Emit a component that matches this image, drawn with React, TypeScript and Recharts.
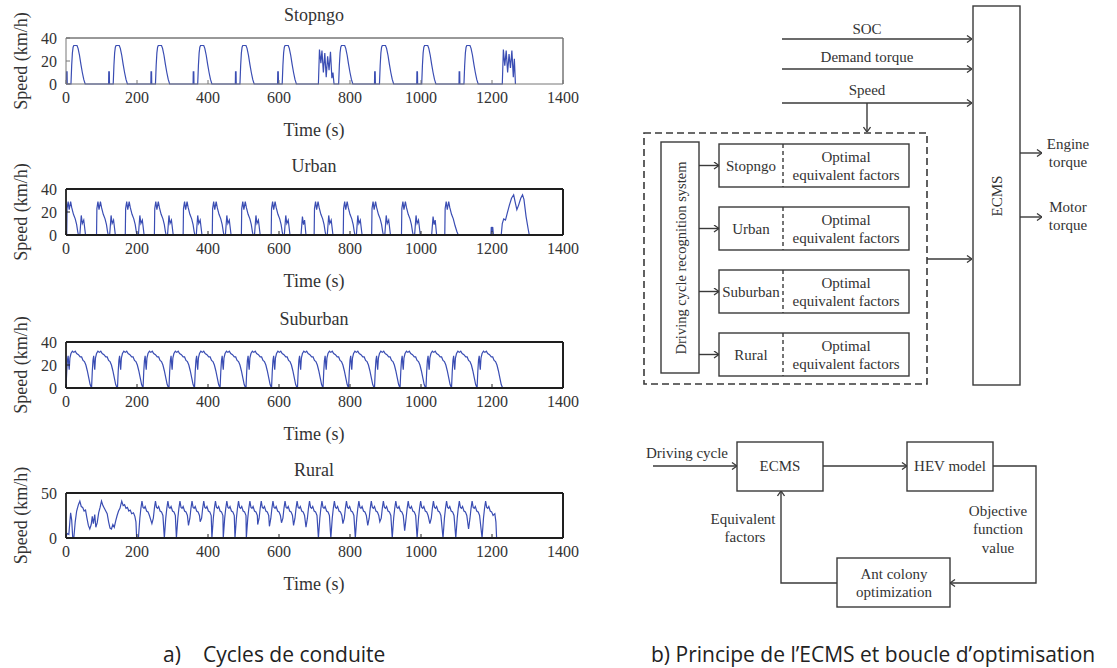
import React from "react";
import { LineChart, Line, XAxis, YAxis, ReferenceLine } from "recharts";

type Pt = [number, number];
type Row = { t: number; v: number };

const SERIF = "'Liberation Serif', 'DejaVu Serif', serif";
const SANS = "'Open Sans', 'Noto Sans', sans-serif";
const BLUE = "#3a4db3";
const INK = "#333";

const xTicks = [0, 200, 400, 600, 800, 1000, 1200, 1400];

// ---- Stopngo: short spike, then one trip; two stop-and-go bursts ----
const stopngoSpikeStarts = [1, 120, 239, 358, 477, 596, 869, 988, 1107];
const stopngoSpike: Pt[] = [[0, 0], [0.5, 10.5], [2, 10.5], [2.5, 0]];
const stopngoTripStarts = [14, 133, 252, 371, 490, 609, 768, 883, 1002, 1121];
const stopngoTrip: Pt[] = [[0, 0], [2, 16], [4, 27], [6, 32], [8, 33.5], [17, 33.5], [20, 31], [24, 25], [28, 17], [32, 10], [36, 4], [40, 0]];
const stopngoBurstA: Pt[] = [[711, 0], [714, 30], [718, 18], [721, 29], [725, 10], [729, 27], [733, 6], [737, 24], [741, 12], [745, 28], [749, 5], [752, 10], [755, 0]];
const stopngoBurstB: Pt[] = [[1229, 0], [1232, 30], [1236, 16], [1240, 29], [1244, 10], [1248, 26], [1252, 14], [1256, 29], [1260, 6], [1263, 22], [1266, 0]];

// ---- Urban ----
const urbanCycleStarts = [2, 86, 167, 249, 330, 412, 494, 578, 699, 781, 861, 945];
const urbanCycle: Pt[] = [[0, 0], [1, 23], [4, 29], [7, 22], [11, 29], [14, 24], [19, 18], [24, 14], [28, 9], [31, 3], [33, 0], [37, 0], [41, 17], [44, 10], [48, 13], [53, 0]];
const urbanShortStarts = [662, 1030];
const urbanShort: Pt[] = [[0, 0], [4, 16], [7, 9], [10, 13], [14, 0]];
const urbanLastStarts = [1067];
const urbanLast: Pt[] = [[0, 0], [1, 23], [4, 29], [7, 22], [11, 29], [14, 24], [19, 18], [24, 14], [29, 8], [34, 3], [38, 0]];
const urbanEnd: Pt[] = [[1197, 0], [1198, 7], [1200, 3], [1202, 7], [1204, 0], [1226, 0], [1229, 10], [1233, 14], [1238, 13], [1243, 19], [1249, 26], [1255, 32], [1261, 35], [1265, 29], [1270, 22], [1275, 26], [1281, 32], [1286, 35], [1290, 31], [1296, 16], [1302, 5], [1305, 0]];

// ---- Suburban ----
const suburbanStarts = [0, 72, 145, 217, 290, 362, 434, 507, 579, 652, 724, 796, 869, 941, 1014, 1086, 1158];
const suburbanHump: Pt[] = [[0, 0], [2, 14], [4, 24], [6, 28], [8, 19], [9, 16], [11, 26], [14, 30], [18, 32], [22, 31], [26, 32], [30, 30], [35, 29], [40, 27], [44, 27], [48, 24], [52, 23], [56, 20], [60, 15], [64, 9], [68, 3], [72, 0]];

// ---- Rural ----
const ruralStart: Pt[] = [[0, 2], [4, 5], [8, 4], [13, 28], [16, 20], [19, 0], [22, 0], [26, 18], [30, 30], [35, 37], [39, 41], [43, 35], [47, 34], [51, 30], [55, 31], [59, 22], [63, 14], [67, 10], [71, 15], [74, 24], [77, 16], [81, 26], [84, 12], [88, 17], [92, 28], [96, 34], [100, 41], [104, 36], [108, 33], [112, 30], [116, 27], [120, 18], [124, 11], [128, 10], [132, 15], [136, 12], [140, 19], [144, 25], [148, 30], [152, 33], [157, 41], [161, 36], [165, 37], [169, 33], [173, 34], [177, 30], [181, 31], [185, 27], [190, 28], [194, 24], [197, 18], [199, 0]];
const ruralPeaks = [214, 252, 287, 321, 355, 388, 421, 453, 486, 518, 550, 583, 617, 651, 686, 721, 756, 790, 825, 860, 894, 929, 964, 999, 1035, 1072, 1108, 1144, 1182];
const ruralLows = [0, 16, 0, 0, 14, 18, 0, 0, 0, 0, 15, 13, 17, 14, 12, 0, 0, 16, 0, 14, 18, 0, 8, 0, 16, 0, 0, 10, 0];
const ruralRise: Pt[] = [[-6, 22], [-3, 33], [0, 41]];
const ruralFall: Pt[] = [[3, 34], [6, 33], [9, 35], [13, 30], [17, 29], [21, 25]];
const ruralEnd: Pt[] = [[1208, 27], [1211, 18], [1213, 0]];

const place = (starts: number[], shape: Pt[]): Pt[] =>
  starts.flatMap((s) => shape.map(([dt, v]) => [s + dt, v] as Pt));

const toRows = (...parts: Pt[][]): Row[] =>
  parts
    .flat()
    .sort((a, b) => a[0] - b[0])
    .map(([t, v]) => ({ t, v }));

const stopngoRows = toRows(
  [[0, 0]],
  place(stopngoSpikeStarts, stopngoSpike),
  place(stopngoTripStarts, stopngoTrip),
  stopngoBurstA,
  stopngoBurstB
);
const urbanRows = toRows(
  place(urbanCycleStarts, urbanCycle),
  place(urbanShortStarts, urbanShort),
  place(urbanLastStarts, urbanLast),
  urbanEnd
);
const suburbanRows = toRows(place(suburbanStarts, suburbanHump));
const ruralRows = toRows(
  ruralStart,
  ruralPeaks.map((p, i) => [p - 10, ruralLows[i]] as Pt),
  place(ruralPeaks, ruralRise),
  place(ruralPeaks, ruralFall),
  ruralEnd
);

type PanelProps = {
  boxTop: number;
  plotH: number;
  rows: Row[];
  yMax: number;
  yTicks: number[];
  heavy: boolean;
};

function Panel({ boxTop, plotH, rows, yMax, yTicks, heavy }: PanelProps) {
  const frame = heavy
    ? { stroke: "#1e1e1e", strokeWidth: 1.8 }
    : { stroke: "#777", strokeWidth: 1 };
  const tl = { stroke: heavy ? "#222" : "#777", strokeWidth: 1 };
  const tick = { fontFamily: SERIF, fontSize: 16, fill: INK };
  return (
    <div style={{ position: "absolute", left: 0, top: boxTop - 30 }}>
      <LineChart
        width={600}
        height={150}
        data={rows}
        margin={{ top: 29, right: 36, bottom: 0, left: 0 }}
      >
        <XAxis
          xAxisId="b"
          dataKey="t"
          type="number"
          domain={[0, 1400]}
          ticks={xTicks}
          interval={0}
          tickSize={-4}
          tickMargin={12}
          height={120 - plotH}
          axisLine={frame}
          tickLine={tl}
          tick={tick}
        />
        <XAxis
          xAxisId="t"
          orientation="top"
          dataKey="t"
          type="number"
          domain={[0, 1400]}
          ticks={xTicks}
          interval={0}
          tickSize={-4}
          height={1}
          axisLine={frame}
          tickLine={tl}
          tick={false}
        />
        <YAxis
          yAxisId="l"
          type="number"
          domain={[0, yMax]}
          ticks={yTicks}
          interval={0}
          tickSize={-4}
          tickMargin={13}
          width={66}
          axisLine={frame}
          tickLine={tl}
          tick={tick}
        />
        <YAxis
          yAxisId="r"
          orientation="right"
          type="number"
          domain={[0, yMax]}
          ticks={yTicks}
          interval={0}
          tickSize={-4}
          width={1}
          axisLine={frame}
          tickLine={tl}
          tick={false}
        />
        {/* frame edges on top and right */}
        <ReferenceLine xAxisId="b" yAxisId="l" y={yMax} stroke={frame.stroke} strokeWidth={frame.strokeWidth} />
        <ReferenceLine xAxisId="b" yAxisId="l" x={1400} stroke={frame.stroke} strokeWidth={frame.strokeWidth} />
        {/* invisible copy that binds the top and right frame axes */}
        <Line
          xAxisId="t"
          yAxisId="r"
          dataKey="v"
          type="linear"
          stroke="none"
          strokeOpacity={0}
          dot={false}
          activeDot={false}
          isAnimationActive={false}
        />
        <Line
          xAxisId="b"
          yAxisId="l"
          dataKey="v"
          type="linear"
          stroke={BLUE}
          strokeWidth={1.2}
          dot={false}
          isAnimationActive={false}
        />
      </LineChart>
    </div>
  );
}

type TxtProps = {
  x: number;
  y: number;
  children: React.ReactNode;
  size?: number;
  rot?: number;
  anchor?: "start" | "middle" | "end";
  family?: string;
  fill?: string;
};

const Txt = ({ x, y, children, size = 15, rot, anchor = "middle", family = SERIF, fill = INK }: TxtProps) => (
  <text
    x={x}
    y={y}
    textAnchor={anchor}
    dominantBaseline="central"
    fontSize={size}
    fontFamily={family}
    fill={fill}
    transform={rot ? `rotate(${rot} ${x} ${y})` : undefined}
  >
    {children}
  </text>
);

const panels = [
  { title: "Stopngo", boxTop: 38, plotH: 46, rows: stopngoRows, yMax: 40, yTicks: [0, 20, 40], heavy: false },
  { title: "Urban", boxTop: 189, plotH: 46, rows: urbanRows, yMax: 40, yTicks: [0, 20, 40], heavy: true },
  { title: "Suburban", boxTop: 342, plotH: 46, rows: suburbanRows, yMax: 40, yTicks: [0, 20, 40], heavy: true },
  { title: "Rural", boxTop: 493, plotH: 45, rows: ruralRows, yMax: 50, yTicks: [0, 50], heavy: true },
];

const modes = ["Stopngo", "Urban", "Suburban", "Rural"];
const modeTops = [144, 207, 270, 333];

export default function App() {
  const ln = { stroke: "#3a3a3a", strokeWidth: 1.4, fill: "none" };
  return (
    <div
      style={{
        position: "absolute",
        left: 0,
        top: 0,
        width: 1117,
        height: 668,
        background: "#fff",
        overflow: "hidden",
      }}
    >
      {panels.map((p) => (
        <Panel key={p.title} {...p} />
      ))}
      <svg
        width={1117}
        height={668}
        style={{ position: "absolute", left: 0, top: 0, pointerEvents: "none" }}
      >
        <defs>
          <marker
            id="arr"
            viewBox="0 0 8 8"
            refX={8}
            refY={4}
            markerWidth={8}
            markerHeight={8}
            markerUnits="userSpaceOnUse"
            orient="auto"
          >
            <path d="M3,0.5 L8,4 L3,7.5" fill="none" stroke="#3a3a3a" strokeWidth={1.3} />
          </marker>
        </defs>

        {/* panel titles and axis labels */}
        {panels.map((p) => (
          <g key={p.title}>
            <Txt x={314} y={p.boxTop - 23} size={18}>{p.title}</Txt>
            <Txt x={314} y={p.boxTop + p.plotH + 46} size={18}>Time (s)</Txt>
            <Txt x={21} y={p.boxTop + p.plotH / 2} size={18} rot={-90}>Speed (km/h)</Txt>
          </g>
        ))}

        {/* ECMS structure */}
        <rect x={973} y={6} width={47} height={379} {...ln} />
        <Txt x={997} y={196} rot={-90}>ECMS</Txt>
        <line x1={782} y1={39} x2={972} y2={39} {...ln} markerEnd="url(#arr)" />
        <Txt x={867} y={29}>SOC</Txt>
        <line x1={782} y1={69} x2={972} y2={69} {...ln} markerEnd="url(#arr)" />
        <Txt x={867} y={57}>Demand torque</Txt>
        <line x1={782} y1={103} x2={972} y2={103} {...ln} markerEnd="url(#arr)" />
        <Txt x={867} y={90}>Speed</Txt>
        <line x1={867} y1={103} x2={867} y2={132} {...ln} markerEnd="url(#arr)" />
        <rect x={644} y={133} width={283} height={251} {...ln} strokeWidth={1.6} strokeDasharray="7 4" />
        <rect x={661} y={142} width={38} height={231} {...ln} />
        <Txt x={681} y={258} rot={-90} size={14.5}>Driving cycle recognition system</Txt>
        {modes.map((m, i) => {
          const top = modeTops[i];
          const cy = top + 21.5;
          return (
            <g key={m}>
              <line x1={699} y1={cy} x2={719} y2={cy} {...ln} markerEnd="url(#arr)" />
              <rect x={719} y={top} width={190} height={43} {...ln} />
              <line x1={783} y1={top} x2={783} y2={top + 43} {...ln} strokeDasharray="4 3" />
              <Txt x={751} y={cy}>{m}</Txt>
              <Txt x={846} y={cy - 9}>Optimal</Txt>
              <Txt x={846} y={cy + 9}>equivalent factors</Txt>
            </g>
          );
        })}
        <line x1={927} y1={259} x2={972} y2={259} {...ln} markerEnd="url(#arr)" />
        <line x1={1020} y1={153} x2={1042} y2={153} {...ln} markerEnd="url(#arr)" />
        <Txt x={1068} y={144}>Engine</Txt>
        <Txt x={1068} y={162}>torque</Txt>
        <line x1={1020} y1={217} x2={1042} y2={217} {...ln} markerEnd="url(#arr)" />
        <Txt x={1068} y={207}>Motor</Txt>
        <Txt x={1068} y={225}>torque</Txt>

        {/* optimisation loop */}
        <Txt x={687} y={453}>Driving cycle</Txt>
        <line x1={653} y1={466} x2={737} y2={466} {...ln} markerEnd="url(#arr)" />
        <rect x={737} y={442} width={86} height={49} {...ln} />
        <Txt x={780} y={466}>ECMS</Txt>
        <line x1={823} y1={466} x2={907} y2={466} {...ln} markerEnd="url(#arr)" />
        <rect x={907} y={442} width={86} height={49} {...ln} />
        <Txt x={950} y={466}>HEV model</Txt>
        <polyline points="993,466 1036,466 1036,583 950,583" {...ln} markerEnd="url(#arr)" />
        <rect x={837} y={558} width={113} height={49} {...ln} />
        <Txt x={894} y={574}>Ant colony</Txt>
        <Txt x={894} y={592}>optimization</Txt>
        <polyline points="837,583 781,583 781,491" {...ln} markerEnd="url(#arr)" />
        <Txt x={743} y={519}>Equivalent</Txt>
        <Txt x={745} y={537}>factors</Txt>
        <Txt x={998} y={511}>Objective</Txt>
        <Txt x={998} y={529}>function</Txt>
        <Txt x={998} y={548}>value</Txt>

        {/* captions */}
        <Txt x={163} y={654} size={21} anchor="start" family={SANS} fill="#222">a)</Txt>
        <Txt x={203} y={654} size={21} anchor="start" family={SANS} fill="#222">Cycles de conduite</Txt>
        <Txt x={651} y={654} size={21} anchor="start" family={SANS} fill="#222">b) Principe de l’ECMS et boucle d’optimisation</Txt>
      </svg>
    </div>
  );
}
